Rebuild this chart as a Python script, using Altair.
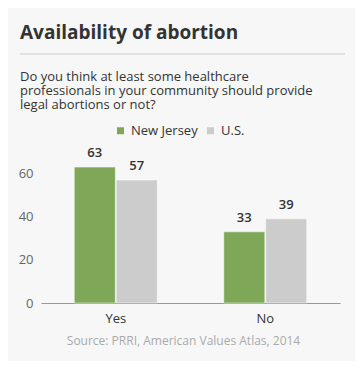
import altair as alt
import pandas as pd

categories = ["Yes", "No"]
series = ["New Jersey", "U.S."]
nj_values = [63, 33]
us_values = [57, 39]
colors = ["#7ea857", "#cccccc"]
y_ticks = [0, 20, 40, 60]

title_text = "Availability of abortion"
subtitle_lines = [
    "Do you think at least some healthcare",
    "professionals in your community should provide",
    "legal abortions or not?",
]
source_text = "Source: PRRI, American Values Atlas, 2014"

rows = []
for i, c in enumerate(categories):
    rows.append({"answer": c, "region": series[0], "value": nj_values[i]})
    rows.append({"answer": c, "region": series[1], "value": us_values[i]})
df = pd.DataFrame(rows)

FONT = "Open Sans"

x_enc = alt.X(
    "answer:N",
    sort=categories,
    scale=alt.Scale(paddingInner=0.445, paddingOuter=0.2225),
    axis=alt.Axis(
        title=source_text,
        labelAngle=0,
        labelFont=FONT,
        labelFontSize=13,
        labelColor="#333333",
        labelPadding=9,
        ticks=False,
        domainColor="#999999",
        titleFont=FONT,
        titleFontSize=12,
        titleFontWeight="normal",
        titleColor="#aaaaaa",
        titlePadding=10,
        titleX=142,
        titleAlign="center",
    ),
)
xoff_enc = alt.XOffset("region:N", sort=series, scale=alt.Scale(paddingInner=0.02))
y_enc = alt.Y(
    "value:Q",
    scale=alt.Scale(domain=[0, 70]),
    axis=alt.Axis(
        values=y_ticks,
        title=None,
        domain=False,
        ticks=False,
        grid=False,
        labelFont=FONT,
        labelFontSize=13,
        labelColor="#666666",
        labelPadding=8,
    ),
)
color_enc = alt.Color(
    "region:N",
    sort=series,
    scale=alt.Scale(domain=series, range=colors),
    legend=alt.Legend(
        title=None,
        orient="none",
        legendX=73,
        legendY=-28,
        direction="horizontal",
        symbolType="square",
        symbolSize=49,
        symbolStrokeWidth=0,
        labelFont=FONT,
        labelFontSize=13,
        labelColor="#333333",
        labelOffset=4,
        columnPadding=6,
    ),
)

bars = alt.Chart(df).mark_bar(stroke="#ffffff", strokeWidth=1, strokeOpacity=0.5).encode(
    x=x_enc, xOffset=xoff_enc, y=y_enc, color=color_enc
)
labels = alt.Chart(df).mark_text(
    baseline="bottom", dy=-7, font=FONT, fontSize=13, fontWeight=600, color="#333333"
).encode(x=x_enc, xOffset=xoff_enc, y=y_enc, text="value:Q")

sep = alt.Chart(alt.Data(values=[{"a": 1}])).mark_rule(color="#cccccc", strokeWidth=1).encode(
    x=alt.value(-21), x2=alt.value(304), y=alt.value(-98)
)

chart = (
    alt.layer(bars, labels, sep)
    .properties(
        width=299,
        height=151,
        autosize=alt.AutoSizeParams(type="none"),
        padding={"left": 33, "top": 144, "right": 15, "bottom": 58},
        background="#f7f7f7",
        title=alt.TitleParams(
            text=title_text,
            subtitle=subtitle_lines,
            anchor="start",
            frame="group",
            dx=-21,
            offset=-58,
            font=FONT,
            fontSize=19,
            fontWeight="bold",
            color="#333333",
            subtitleFont=FONT,
            subtitleFontSize=13,
            subtitleColor="#333333",
            subtitleLineHeight=14,
            subtitlePadding=28,
        ),
    )
    .configure_view(stroke=None)
)

chart.save("out.html", embed_options={"renderer": "svg", "actions": False})
